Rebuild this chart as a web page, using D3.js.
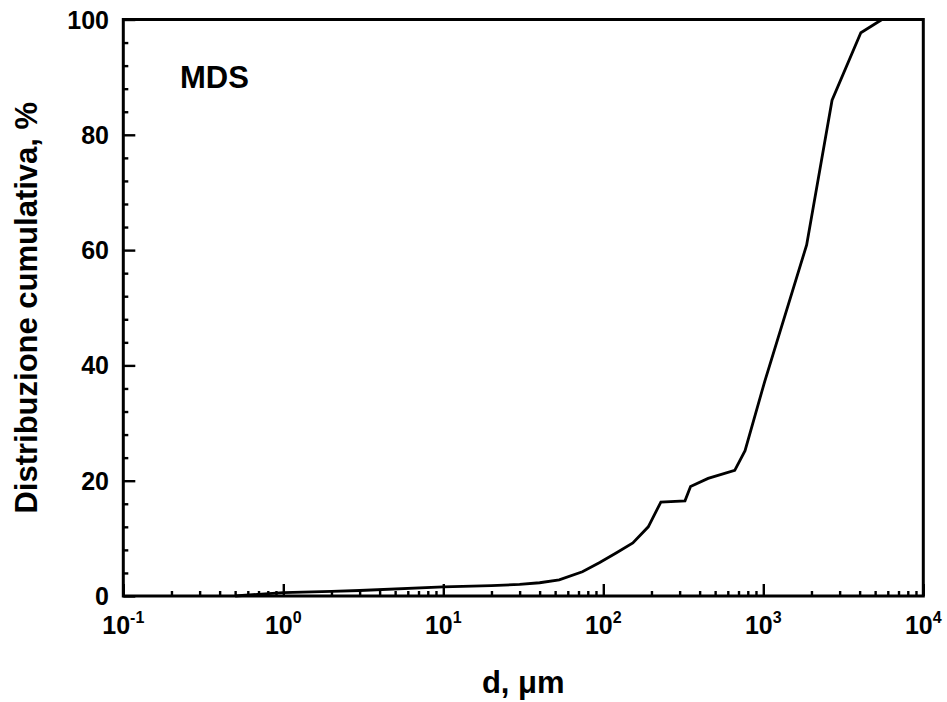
<!DOCTYPE html>
<html><head><meta charset="utf-8">
<script src="https://cdn.jsdelivr.net/npm/d3@7"></script>
<style>body{margin:0;background:#fff}svg{display:block}text{font-family:"Liberation Sans",Arial,sans-serif;font-weight:bold;fill:#000}</style>
</head><body><svg id="c" width="947" height="702"></svg>
<script>
const diameters = [0.5, 1, 2, 3, 10, 20, 30, 40, 53, 74, 95, 121, 153, 191, 229, 324, 351, 452, 663, 769, 1020, 1866, 2690, 4070, 5520];
const cumulative = [0.0, 0.6, 0.8, 0.95, 1.6, 1.8, 2.0, 2.3, 2.8, 4.2, 5.8, 7.5, 9.2, 12.0, 16.3, 16.5, 19.0, 20.4, 21.8, 25.2, 37.2, 60.9, 86.0, 97.7, 100];
const xTickExponents = [-1, 0, 1, 2, 3, 4];
const yTickLabels = [0, 20, 40, 60, 80, 100];
const yMinorTicks = d3.range(0, 101, 4);
const seriesName = "MDS";
const xTitleBase = "d, ";
const xTitleUnit = "μm";
const yTitle = "Distribuzione cumulativa, %";

const svg = d3.select("#c");
const L = 123.3, R = 923.3, T = 19.5, B = 596;
const x = d3.scaleLog().domain([0.1, 1e4]).range([L, R]);
const y = d3.scaleLinear().domain([0, 100]).range([B, T]);

const xMinor = x.ticks().filter(v => !xTickExponents.some(e => Math.abs(Math.log10(v) - e) < 1e-9));
svg.append("g").attr("transform", `translate(0,${B})`)
  .call(d3.axisBottom(x).tickValues(xMinor).tickSizeInner(-5).tickSizeOuter(0).tickFormat(""));
svg.append("g").attr("transform", `translate(0,${B})`)
  .call(d3.axisBottom(x).tickValues(xTickExponents.map(e => Math.pow(10, e))).tickSizeInner(-12).tickSizeOuter(0).tickFormat(""));
svg.append("g").attr("transform", `translate(${L},0)`)
  .call(d3.axisLeft(y).tickValues(yMinorTicks.filter(v => v % 20 !== 0)).tickSizeInner(-5).tickSizeOuter(0).tickFormat(""));
svg.append("g").attr("transform", `translate(${L},0)`)
  .call(d3.axisLeft(y).tickValues(yTickLabels).tickSizeInner(-12).tickSizeOuter(0).tickFormat(""));
svg.selectAll(".domain").remove();
svg.selectAll(".tick line").attr("stroke", "#000").attr("stroke-width", 2.4);

const line = d3.line().x((d, i) => x(diameters[i])).y(d => y(d));
svg.append("path").datum(cumulative).attr("d", line)
  .attr("fill", "none").attr("stroke", "#000").attr("stroke-width", 2.8).attr("stroke-linejoin", "miter");

svg.append("rect").attr("x", L).attr("y", T).attr("width", R - L).attr("height", B - T)
  .attr("fill", "none").attr("stroke", "#000").attr("stroke-width", 3);

svg.selectAll(".ylab").data(yTickLabels).enter().append("text")
  .attr("x", 109).attr("y", d => y(d)).attr("dy", "0.36em")
  .attr("text-anchor", "end").attr("font-size", 25).text(d => d);

xTickExponents.forEach(e => {
  const t = svg.append("text").attr("x", x(Math.pow(10, e))).attr("y", 634)
    .attr("text-anchor", "middle").attr("font-size", 25);
  t.append("tspan").text("10");
  t.append("tspan").attr("font-size", 16).attr("dy", -11).text(e);
});

const xt = svg.append("text").attr("x", (L + R) / 2).attr("y", 693).attr("text-anchor", "middle").attr("font-size", 31);
xt.append("tspan").text(xTitleBase);
xt.append("tspan").text(xTitleUnit);

svg.append("text").attr("transform", `translate(37,${(T + B) / 2}) rotate(-90)`)
  .attr("text-anchor", "middle").attr("font-size", 31).text(yTitle);

svg.append("text").attr("x", 180).attr("y", 88).attr("font-size", 31).text(seriesName);
</script></body></html>
